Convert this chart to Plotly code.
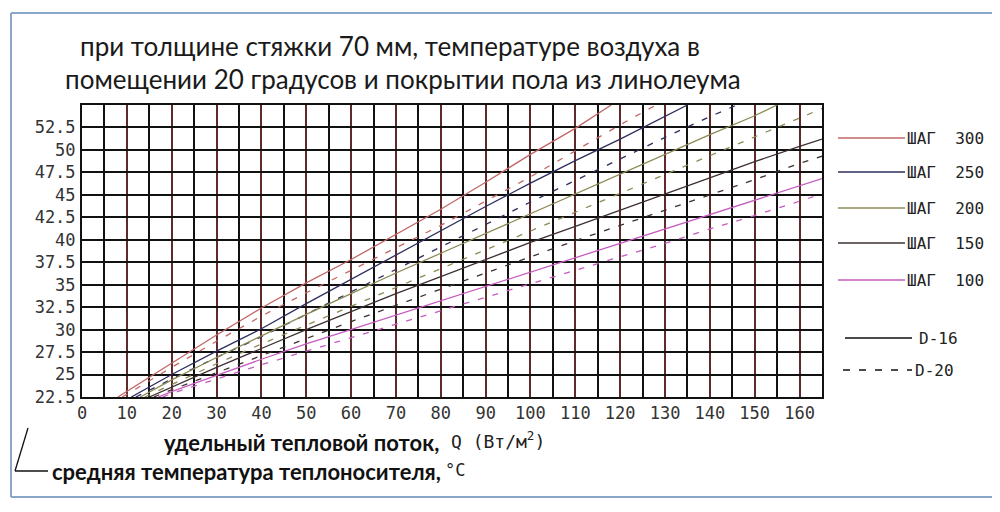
import plotly.graph_objects as go

# удельный тепловой поток Q, Вт/м2  ->  средняя температура теплоносителя, °C
q_300_d16 = [8, 20, 30, 40, 50, 60, 70, 80, 90, 100, 110, 118]
t_300_d16 = [22.5, 26.3, 29.4, 32.4, 35.2, 37.8, 40.6, 43.4, 46.4, 49.5, 52.4, 55.0]
q_300_d20 = [9, 20, 30, 40, 50, 60, 70, 80, 90, 100, 110, 120, 128]
t_300_d20 = [22.5, 25.8, 28.7, 31.5, 34.1, 36.6, 39.1, 41.6, 44.3, 47.0, 49.9, 52.8, 55.0]

q_250_d16 = [11, 20, 30, 40, 50, 60, 70, 80, 90, 100, 110, 120, 130, 135]
t_250_d16 = [22.5, 25.0, 27.6, 30.1, 32.9, 35.6, 38.3, 41.0, 43.7, 46.3, 48.8, 51.2, 53.7, 55.0]
q_250_d20 = [12, 20, 30, 40, 50, 60, 70, 80, 90, 100, 110, 120, 130, 140, 146]
t_250_d20 = [22.5, 24.5, 26.9, 29.2, 31.7, 34.2, 36.7, 39.2, 41.7, 44.2, 46.6, 49.0, 51.4, 53.7, 55.0]

q_200_d16 = [13, 20, 30, 40, 50, 60, 70, 80, 90, 100, 110, 120, 130, 140, 150, 155]
t_200_d16 = [22.5, 24.4, 26.9, 29.3, 31.7, 34.0, 36.3, 38.5, 40.7, 42.9, 45.1, 47.3, 49.5, 51.7, 53.8, 55.0]
q_200_d20 = [14, 20, 30, 40, 50, 60, 70, 80, 90, 100, 110, 120, 130, 140, 150, 160, 165]
t_200_d20 = [22.5, 23.9, 26.2, 28.4, 30.5, 32.6, 34.7, 36.8, 38.9, 41.0, 43.1, 45.2, 47.3, 49.4, 51.5, 53.6, 54.6]

q_150_d16 = [15, 20, 30, 40, 50, 60, 70, 80, 90, 100, 110, 120, 130, 140, 150, 160, 165]
t_150_d16 = [22.5, 23.6, 25.8, 27.9, 30.0, 32.0, 34.0, 35.9, 37.8, 39.7, 41.5, 43.3, 45.1, 46.9, 48.7, 50.4, 51.2]
q_150_d20 = [16, 20, 30, 40, 50, 60, 70, 80, 90, 100, 110, 120, 130, 140, 150, 160, 165]
t_150_d20 = [22.5, 23.3, 25.2, 27.1, 29.0, 30.9, 32.7, 34.5, 36.3, 38.1, 39.9, 41.6, 43.3, 45.0, 46.7, 48.5, 49.3]

q_100_d16 = [17, 20, 30, 40, 50, 60, 70, 80, 90, 100, 110, 120, 130, 140, 150, 160, 165]
t_100_d16 = [22.5, 23.1, 24.9, 26.7, 28.4, 30.0, 31.6, 33.2, 34.8, 36.4, 38.0, 39.6, 41.2, 42.8, 44.4, 46.0, 46.8]
q_100_d20 = [18, 20, 30, 40, 50, 60, 70, 80, 90, 100, 110, 120, 130, 140, 150, 160, 165]
t_100_d20 = [22.5, 22.9, 24.5, 26.1, 27.6, 29.1, 30.6, 32.1, 33.6, 35.1, 36.6, 38.1, 39.6, 41.2, 42.7, 44.3, 45.1]

steps = ["ШАГ  300", "ШАГ  250", "ШАГ  200", "ШАГ  150", "ШАГ  100"]
step_colors = ["#c26666", "#2e2e5e", "#8c8a55", "#3e3030", "#c65cc0"]

x_ticks = list(range(0, 161, 10))
y_ticks = [22.5, 25, 27.5, 30, 32.5, 35, 37.5, 40, 42.5, 45, 47.5, 50, 52.5]
y_labels = ["22.5", "25", "27.5", "30", "32.5", "35", "37.5", "40", "42.5", "45", "47.5", "50", "52.5"]

series = [
    (q_300_d16, t_300_d16, q_300_d20, t_300_d20),
    (q_250_d16, t_250_d16, q_250_d20, t_250_d20),
    (q_200_d16, t_200_d16, q_200_d20, t_200_d20),
    (q_150_d16, t_150_d16, q_150_d20, t_150_d20),
    (q_100_d16, t_100_d16, q_100_d20, t_100_d20),
]

# the page has an 8px body margin, so the figure is drawn 8px smaller
OFF = 8
W, H = 1000 - OFF, 512 - OFF
# plot area, in pixels of the screenshot
L, R, T, B = 82, 822, 105, 397


def px(x):
    return (x - L) / (R - L)


def py(y):
    return (B - y) / (B - T)


def seg(x0, y0, x1, y1, color, width=1.5, dash="solid"):
    return dict(type="line", xref="paper", yref="paper", x0=px(x0), x1=px(x1),
                y0=py(y0), y1=py(y1), line=dict(color=color, width=width, dash=dash))


fig = go.Figure()
for (qa, ta, qb, tb), name, col in zip(series, steps, step_colors):
    fig.add_trace(go.Scatter(x=qa, y=ta, mode="lines", name=name + " D-16",
                             line=dict(color=col, width=1.3)))
    fig.add_trace(go.Scatter(x=qb, y=tb, mode="lines", name=name + " D-20",
                             line=dict(color=col, width=1.3, dash="6px,9px")))

mono = "DejaVu Sans Mono"
shapes = []
annotations = []

# legend on the right
leg_y = [138, 172, 208, 243, 280]
for yy, name, col in zip(leg_y, steps, step_colors):
    shapes.append(seg(838, yy, 905, yy, col))
    annotations.append(dict(xref="paper", yref="paper", x=px(905), y=py(yy),
                            xanchor="left", yanchor="middle", showarrow=False,
                            text=name, font=dict(family=mono, size=16, color="#222")))
shapes.append(seg(845, 338, 912, 338, "#111"))
shapes.append(seg(843, 370, 912, 370, "#111", dash="7px,9px"))
annotations.append(dict(xref="paper", yref="paper", x=px(917), y=py(338), xanchor="left",
                        yanchor="middle", showarrow=False, text="D-16",
                        font=dict(family=mono, size=16, color="#222")))
annotations.append(dict(xref="paper", yref="paper", x=px(913), y=py(370), xanchor="left",
                        yanchor="middle", showarrow=False, text="D-20",
                        font=dict(family=mono, size=16, color="#222")))

# title lines
title_font = dict(family="Lato, Open Sans, sans-serif", size=26, color="#1a1a1a")
annotations.append(dict(xref="paper", yref="paper", x=px(390), y=py(46), xanchor="center",
                        yanchor="middle", showarrow=False, font=title_font,
                        text="при толщине стяжки 70 мм, температуре воздуха в"))
annotations.append(dict(xref="paper", yref="paper", x=px(403), y=py(79), xanchor="center",
                        yanchor="middle", showarrow=False, font=title_font,
                        text="помещении 20 градусов и покрытии пола из линолеума"))

# axis captions
cap_font = dict(family="Lato, Open Sans, sans-serif", size=22, color="#111")
annotations.append(dict(xref="paper", yref="paper", x=px(441), y=py(442), xanchor="right",
                        yanchor="middle", showarrow=False, font=cap_font,
                        text="<b>удельный тепловой поток,</b>"))
annotations.append(dict(xref="paper", yref="paper", x=px(449), y=py(440), xanchor="left",
                        yanchor="middle", showarrow=False,
                        font=dict(family=mono, size=18, color="#222"),
                        text="Q (Вт/м<sup>2</sup>)"))
annotations.append(dict(xref="paper", yref="paper", x=px(50), y=py(471), xanchor="left",
                        yanchor="middle", showarrow=False, font=cap_font,
                        text="<b>средняя температура теплоносителя,</b>"))
annotations.append(dict(xref="paper", yref="paper", x=px(443), y=py(470), xanchor="left",
                        yanchor="middle", showarrow=False,
                        font=dict(family=mono, size=17, color="#222"), text="°C"))
shapes.append(seg(28, 428, 15, 471, "#111", 1.3))
shapes.append(seg(15, 471, 48, 471, "#111", 1.3))

# outer frame, as four separate sides
frame = "#8aa6c8"
shapes.append(seg(11, 13, 993, 13, frame, 2))
shapes.append(seg(11, 497, 993, 497, frame, 2))
shapes.append(seg(11, 13, 11, 497, frame, 2))
shapes.append(seg(993, 13, 993, 497, frame, 2))

fig.update_layout(
    width=W, height=H,
    margin=dict(l=L - OFF, r=1000 - R, t=T - OFF, b=512 - B),
    paper_bgcolor="white", plot_bgcolor="white",
    showlegend=False,
    shapes=shapes, annotations=annotations,
    xaxis=dict(range=[0, 165], tickvals=x_ticks, ticktext=[str(v) for v in x_ticks],
               showgrid=True, gridcolor="#5e2a2a", gridwidth=1.7,
               minor=dict(dtick=5, tick0=0, showgrid=True, gridcolor="#111", gridwidth=1.7),
               showline=True, mirror=True, linecolor="#111", linewidth=2,
               zeroline=False, ticks="",
               tickfont=dict(family=mono, size=17, color="#333")),
    yaxis=dict(range=[22.5, 55], tickvals=y_ticks, ticktext=y_labels,
               showgrid=True, gridcolor="#111", gridwidth=1.7,
               showline=True, mirror=True, linecolor="#111", linewidth=2,
               zeroline=False, ticks="", ticklabelstandoff=1,
               tickfont=dict(family=mono, size=17, color="#333")),
)

fig.write_html("out.html")
